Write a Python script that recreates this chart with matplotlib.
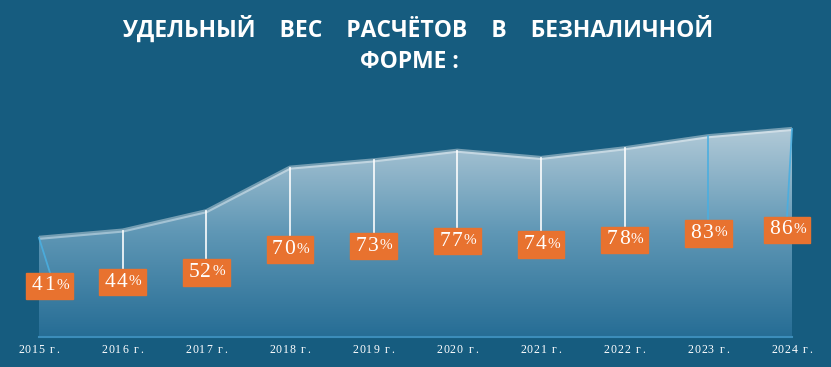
import numpy as np
import matplotlib
matplotlib.use('Agg')
import matplotlib.pyplot as plt
from matplotlib.patches import Rectangle
from matplotlib.colors import LinearSegmentedColormap

# данные
years = ['2015', '2016', '2017', '2018', '2019',
         '2020', '2021', '2022', '2023', '2024']
values = [41, 44, 52, 70, 73, 77, 74, 78, 83, 86]
title_1 = 'УДЕЛЬНЫЙ    ВЕС    РАСЧЁТОВ    В    БЕЗНАЛИЧНОЙ'
title_2 = 'ФОРМЕ :'

bg = '#165c7f'
orange = '#e8722f'
leader_colors = ['#4aaee0', 'white', 'white', 'white', 'white',
                 'white', 'white', 'white', '#4aaee0', '#4aaee0']
label_shift = [0.13, 0, 0, 0, 0, 0, 0, 0, 0, -0.06]
px = 1 / 83.67  # ширина пикселя в единицах оси x

fig = plt.figure(figsize=(8.31, 3.67), dpi=100, facecolor=bg)
ax = fig.add_axes([0, 0, 1, 1])
ax.set_facecolor(bg)

x = np.arange(len(values))
poly = ax.fill_between(x, values, 0, facecolor='none', edgecolor='none')
grad = np.linspace(0, 1, 256).reshape(-1, 1)
cmap = LinearSegmentedColormap.from_list('g', ['#266d95', '#5f97b5', '#b2cad8'])
im = ax.imshow(grad, extent=[0, len(values) - 1, 0, max(values)], origin='lower',
               cmap=cmap, aspect='auto', zorder=1)
im.set_clip_path(poly.get_paths()[0], transform=ax.transData)

ax.plot(x, values, color='white', alpha=0.4, lw=3, zorder=2, solid_capstyle='butt')
ax.plot([0, len(values) - 1], [0, 0], color='#3c8dba', lw=1.5, zorder=2)

for i, v in enumerate(values):
    lx = i + label_shift[i]
    ly = v * 0.515
    ax.plot([i, lx], [v, ly + 5.6], color=leader_colors[i], lw=1.3, alpha=0.9, zorder=3)
    ax.add_patch(Rectangle((lx - 0.28, ly - 5.5), 0.56, 11.0, color=orange, zorder=4))
    # цифры с разрядкой
    for k, ch in enumerate(str(v)):
        ax.text(lx + (-12.5 + 12 * k) * px, ly, ch, ha='center', va='center', fontsize=15.5,
                family='Liberation Serif', color='white', zorder=5)
    ax.text(lx + 12.5 * px, ly + 0.3, '%', ha='center', va='center', fontsize=11,
            family='Liberation Serif', color='white', zorder=5)
    # подпись года
    for k, ch in enumerate(years[i]):
        ax.text(i + (-18 + 6.8 * k) * px, -5.4, ch, ha='center', va='center', fontsize=8.5,
                family='Liberation Serif', color='white')
    ax.text(i + 13.5 * px, -5.4, 'г', ha='center', va='center', fontsize=8.5,
            family='Liberation Serif', color='white')
    ax.text(i + 19 * px, -5.4, '.', ha='center', va='center', fontsize=8.5,
            family='Liberation Serif', color='white')

ax.set_xlim(-0.466, 9.466)
ax.set_ylim(-12.4, 139.3)
ax.axis('off')

fig.text(0.502, 0.921, title_1, ha='center', va='center', fontsize=16.5, fontweight='bold',
         family='Open Sans', color='white')
fig.text(0.493, 0.83, title_2, ha='center', va='center', fontsize=16.5, fontweight='bold',
         family='Open Sans', color='white')

plt.savefig('out.png', dpi=100, facecolor=bg)
